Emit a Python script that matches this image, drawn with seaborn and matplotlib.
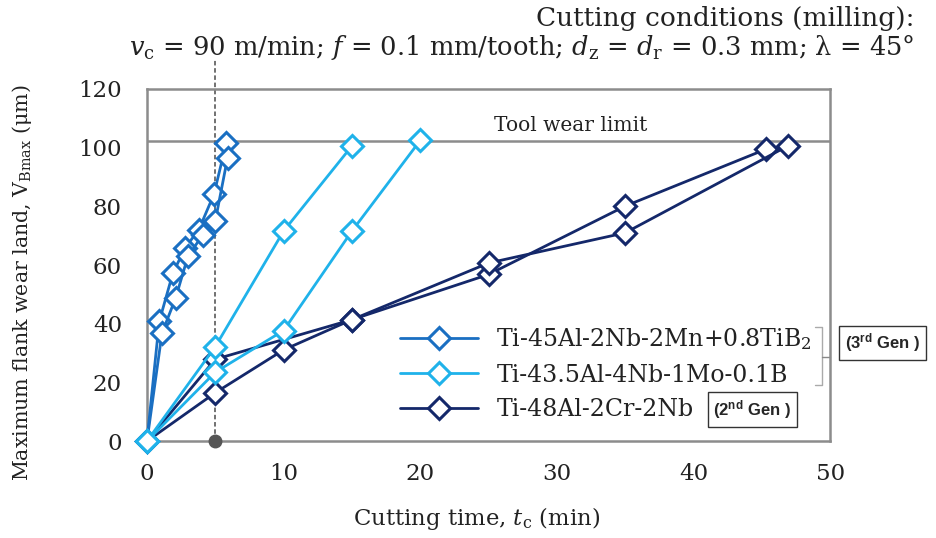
import pandas as pd
import matplotlib
matplotlib.use("Agg")
import matplotlib.pyplot as plt
from matplotlib.lines import Line2D
import seaborn as sns

# values (cutting time in min, VBmax in um)
t_tib2_a = [0, 0.9, 1.9, 2.8, 3.8, 4.9, 5.8]
vb_tib2_a = [0, 40.8, 57.3, 65.9, 72.1, 84.1, 101.5]
t_tib2_b = [0, 1.1, 2.1, 3.0, 4.1, 5.0, 5.9]
vb_tib2_b = [0, 36.8, 48.8, 63.0, 70.4, 75.0, 96.6]

t_mo_a = [0, 5, 10, 15]
vb_mo_a = [0, 32.2, 71.6, 100.6]
t_mo_b = [0, 5, 10, 15, 20]
vb_mo_b = [0, 23.5, 37.7, 71.6, 102.5]

t_cr_a = [0, 5, 15, 25, 35, 45.3]
vb_cr_a = [0, 27.9, 41.4, 56.8, 80.1, 99.5]
t_cr_b = [0, 5, 10, 15, 25, 35, 46.9]
vb_cr_b = [0, 16.5, 31.1, 41.4, 60.7, 71.0, 100.6]

alloys = ["Ti-45Al-2Nb-2Mn+0.8TiB$_2$", "Ti-43.5Al-4Nb-1Mo-0.1B", "Ti-48Al-2Cr-2Nb"]
colors = ["#1a6fc2", "#1fb2ea", "#14286a"]

tool_wear_limit = 102.3
marked_time = 5

x_ticks = [0, 10, 20, 30, 40, 50]
y_ticks = [0, 20, 40, 60, 80, 100, 120]

frames = []
for alloy, run, t, vb in [
    (alloys[2], "cr_a", t_cr_a, vb_cr_a),
    (alloys[2], "cr_b", t_cr_b, vb_cr_b),
    (alloys[0], "tib2_a", t_tib2_a, vb_tib2_a),
    (alloys[0], "tib2_b", t_tib2_b, vb_tib2_b),
    (alloys[1], "mo_a", t_mo_a, vb_mo_a),
    (alloys[1], "mo_b", t_mo_b, vb_mo_b),
]:
    frames.append(pd.DataFrame({"t": t, "vb": vb, "alloy": alloy, "run": run}))
df = pd.concat(frames, ignore_index=True)

sns.set_style("white")
plt.rcParams["font.family"] = ["DejaVu Serif", "DejaVu Sans"]
plt.rcParams["mathtext.fontset"] = "custom"
plt.rcParams["mathtext.rm"] = "DejaVu Serif"
plt.rcParams["mathtext.it"] = "DejaVu Serif:italic"
plt.rcParams["mathtext.bf"] = "Liberation Sans:bold"

fig = plt.figure(figsize=(9.36, 5.38), dpi=100)
ax = fig.add_axes([0.157, 0.180, 0.730, 0.6546])

grey = "#8c8c8c"
ink = "#222222"
color_of = dict(zip(alloys, colors))

ax.axhline(tool_wear_limit, color=grey, lw=1.8, zorder=1)
ax.plot([marked_time, marked_time], [0, 130], color="#666666", lw=1.3,
        ls=(0, (2.5, 1.5)), clip_on=False, zorder=1)
ax.plot([marked_time], [0], "o", color="#555555", ms=9, clip_on=False, zorder=6)

for run, sub in df.groupby("run", sort=False):
    c = color_of[sub["alloy"].iloc[0]]
    sns.lineplot(data=sub, x="t", y="vb", sort=False, estimator=None, ax=ax,
                 color=c, lw=2, marker="D", markersize=11,
                 markerfacecolor="white", markeredgecolor=c,
                 markeredgewidth=2.2, legend=False, zorder=3, clip_on=False)

ax.set_xlim(0, 50)
ax.set_ylim(0, 120)
ax.set_xticks(x_ticks)
ax.set_yticks(y_ticks)
ax.tick_params(axis="both", labelsize=16.5, color=grey, width=1.5, length=7,
               direction="out", labelcolor=ink)
ax.tick_params(axis="x", pad=9)
ax.tick_params(axis="y", pad=11)
for s in ax.spines.values():
    s.set_color(grey)
    s.set_linewidth(1.8)
ax.set_xlabel("")
ax.set_ylabel("")

ax.text(31.0, 107.6, "Tool wear limit", ha="center", va="center",
        fontsize=14.5, color=ink)

handles = [Line2D([], [], color=c, lw=2, marker="D", ms=11, mfc="white",
                  mec=c, mew=2.2) for c in colors]
ax.legend(handles, alloys, loc="upper left", bbox_to_anchor=(0.356, 0.354),
          frameon=False, fontsize=17, handlelength=3.3, handletextpad=0.8,
          labelspacing=0.5, borderaxespad=0, labelcolor=ink)

# bracket grouping the two 3rd generation alloys
br_x0, br_x1, br_x2 = 0.977, 0.988, 1.0
br_y0, br_y1, br_ym = 0.325, 0.160, 0.239
ax.plot([br_x0, br_x1, br_x1, br_x0], [br_y0, br_y0, br_y1, br_y1],
        transform=ax.transAxes, color="#aaaaaa", lw=1, clip_on=False)
ax.plot([br_x1, br_x2], [br_ym, br_ym], transform=ax.transAxes,
        color="#888888", lw=1, clip_on=False)

box = dict(boxstyle="square,pad=0.35", fc="white", ec="#333333", lw=1)
ax.text(1.077, 0.279, r"(3$^{\mathbf{rd}}$ Gen )", transform=ax.transAxes,
        ha="center", va="center", fontsize=12, family="Liberation Sans",
        fontweight="bold", bbox=box)
ax.text(0.886, 0.09, r"(2$^{\mathbf{nd}}$ Gen )", transform=ax.transAxes,
        ha="center", va="center", fontsize=12, family="Liberation Sans",
        fontweight="bold", bbox=box)

fig.text(0.977, 0.966, "Cutting conditions (milling):", ha="right",
         va="center", fontsize=19, color=ink)
fig.text(0.977, 0.912,
         r"$v_{\rm c}$ = 90 m/min; $f$ = 0.1 mm/tooth; $d_{\rm z}$ = $d_{\rm r}$"
         r" = 0.3 mm; λ = 45°",
         ha="right", va="center", fontsize=18.5, color=ink)
fig.text(0.024, 0.474, r"Maximum flank wear land, V$_{\rm Bmax}$ (μm)",
         rotation=90, ha="center", va="center", fontsize=14.8, color=ink)
fig.text(0.509, 0.037, r"Cutting time, $t_{\rm c}$ (min)", ha="center",
         va="center", fontsize=16.4, color=ink)

fig.savefig("out.png", dpi=100)
